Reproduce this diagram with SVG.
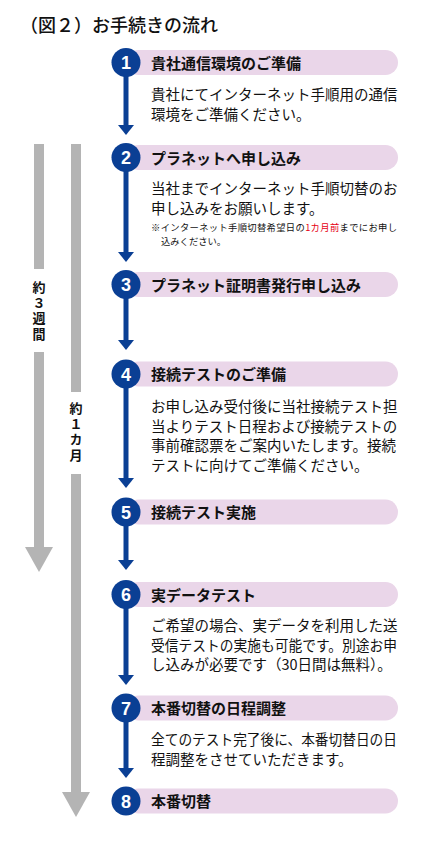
<svg xmlns="http://www.w3.org/2000/svg" width="437" height="846" viewBox="0 0 437 846">
<style>
.jp{font-family:"Noto Sans CJK JP","Noto Sans",sans-serif;}
.title{font-size:18px;font-weight:500;fill:#111;}
.pill{fill:#ead6e9;}
.circ{fill:#0a3f94;}
.num{font-family:"Liberation Sans",Arial,sans-serif;font-size:18px;font-weight:bold;fill:#fff;text-anchor:middle;}
.head{font-size:15px;font-weight:700;fill:#111;}
.body{font-size:14.5px;font-weight:400;fill:#111;}
.note{font-size:9.3px;font-weight:400;fill:#111;}
.red{fill:#e60012;}
.dur{font-size:13px;font-weight:700;fill:#111;writing-mode:vertical-rl;text-orientation:upright;letter-spacing:2.5px;}
.flow{stroke:#0a3f94;stroke-width:5;fill:none;marker-end:url(#ah);}
.bar{stroke:#b4b4b4;stroke-width:10;fill:none;}
.bararr{stroke:#b4b4b4;stroke-width:10;fill:none;marker-end:url(#gah);}
</style>
<defs>
<marker id="ah" markerUnits="userSpaceOnUse" markerWidth="10" markerHeight="16" viewBox="0 0 10 16" refX="0" refY="8" orient="auto">
<path d="M0,0 L10,8 L0,16 z" fill="#0a3f94"/>
</marker>
<marker id="gah" markerUnits="userSpaceOnUse" markerWidth="25" markerHeight="28" viewBox="0 0 25 28" refX="0" refY="14" orient="auto">
<path d="M0,0 L25,14 L0,28 z" fill="#b4b4b4"/>
</marker>
</defs>

<text class="jp title" x="20" y="32">（図２）お手続きの流れ</text>

<g id="durations">
<path class="bar" d="M39,144 V269"/>
<path class="bararr" d="M39,352 V547"/>
<text class="jp dur" x="39" y="281">約３週間</text>
<path class="bar" d="M76,144 V392"/>
<path class="bararr" d="M76,474 V792"/>
<text class="jp dur" x="76" y="402">約１カ月</text>
</g>

<g id="connectors">
<path class="flow" d="M126,62 V125"/>
<path class="flow" d="M126,158 V252"/>
<path class="flow" d="M126,285 V340"/>
<path class="flow" d="M126,374 V478"/>
<path class="flow" d="M126,512 V560"/>
<path class="flow" d="M126,595 V675"/>
<path class="flow" d="M126,708 V768"/>
</g>

<g id="step1">
<rect class="pill" x="126" y="50" width="272" height="25" rx="12.5"/>
<circle class="circ" cx="126" cy="62.5" r="14.5"/>
<text class="num" x="126" y="69">1</text>
<text class="jp head" x="151" y="68.5">貴社通信環境のご準備</text>
<text class="jp body" x="151" y="100">貴社にてインターネット手順用の通信</text>
<text class="jp body" x="151" y="120">環境をご準備ください。</text>
</g>

<g id="step2">
<rect class="pill" x="126" y="145" width="272" height="25" rx="12.5"/>
<circle class="circ" cx="126" cy="157.5" r="14.5"/>
<text class="num" x="126" y="164">2</text>
<text class="jp head" x="151" y="163.5">プラネットへ申し込み</text>
<text class="jp body" x="151" y="194">当社までインターネット手順切替のお</text>
<text class="jp body" x="151" y="214">申し込みをお願いします。</text>
<text class="jp note" x="151" y="231" textLength="246" lengthAdjust="spacing">※インターネット手順切替希望日の<tspan class="red">1カ月前</tspan>までにお申し</text>
<text class="jp note" x="161" y="245">込みください。</text>
</g>

<g id="step3">
<rect class="pill" x="126" y="272" width="272" height="25" rx="12.5"/>
<circle class="circ" cx="126" cy="284.5" r="14.5"/>
<text class="num" x="126" y="291">3</text>
<text class="jp head" x="151" y="290.5">プラネット証明書発行申し込み</text>
</g>

<g id="step4">
<rect class="pill" x="126" y="361.5" width="272" height="25" rx="12.5"/>
<circle class="circ" cx="126" cy="374" r="14.5"/>
<text class="num" x="126" y="380.5">4</text>
<text class="jp head" x="151" y="380">接続テストのご準備</text>
<text class="jp body" x="151" y="412">お申し込み受付後に当社接続テスト担</text>
<text class="jp body" x="151" y="432">当よりテスト日程および接続テストの</text>
<text class="jp body" x="151" y="451">事前確認票をご案内いたします。接続</text>
<text class="jp body" x="151" y="471">テストに向けてご準備ください。</text>
</g>

<g id="step5">
<rect class="pill" x="126" y="499.5" width="272" height="25" rx="12.5"/>
<circle class="circ" cx="126" cy="512" r="14.5"/>
<text class="num" x="126" y="518.5">5</text>
<text class="jp head" x="151" y="518">接続テスト実施</text>
</g>

<g id="step6">
<rect class="pill" x="126" y="582" width="272" height="25" rx="12.5"/>
<circle class="circ" cx="126" cy="594.5" r="14.5"/>
<text class="num" x="126" y="601">6</text>
<text class="jp head" x="151" y="600.5">実データテスト</text>
<text class="jp body" x="151" y="631">ご希望の場合、実データを利用した送</text>
<text class="jp body" x="151" y="651" textLength="246" lengthAdjust="spacingAndGlyphs">受信テストの実施も可能です。別途お申</text>
<text class="jp body" x="151" y="670">し込みが必要です（30日間は無料）。</text>
</g>

<g id="step7">
<rect class="pill" x="126" y="695.5" width="272" height="25" rx="12.5"/>
<circle class="circ" cx="126" cy="708" r="14.5"/>
<text class="num" x="126" y="714.5">7</text>
<text class="jp head" x="151" y="714">本番切替の日程調整</text>
<text class="jp body" x="151" y="745" textLength="246" lengthAdjust="spacingAndGlyphs">全てのテスト完了後に、本番切替日の日</text>
<text class="jp body" x="151" y="765">程調整をさせていただきます。</text>
</g>

<g id="step8">
<rect class="pill" x="126" y="788.5" width="272" height="25" rx="12.5"/>
<circle class="circ" cx="126" cy="801" r="14.5"/>
<text class="num" x="126" y="807.5">8</text>
<text class="jp head" x="151" y="807">本番切替</text>
</g>
</svg>
